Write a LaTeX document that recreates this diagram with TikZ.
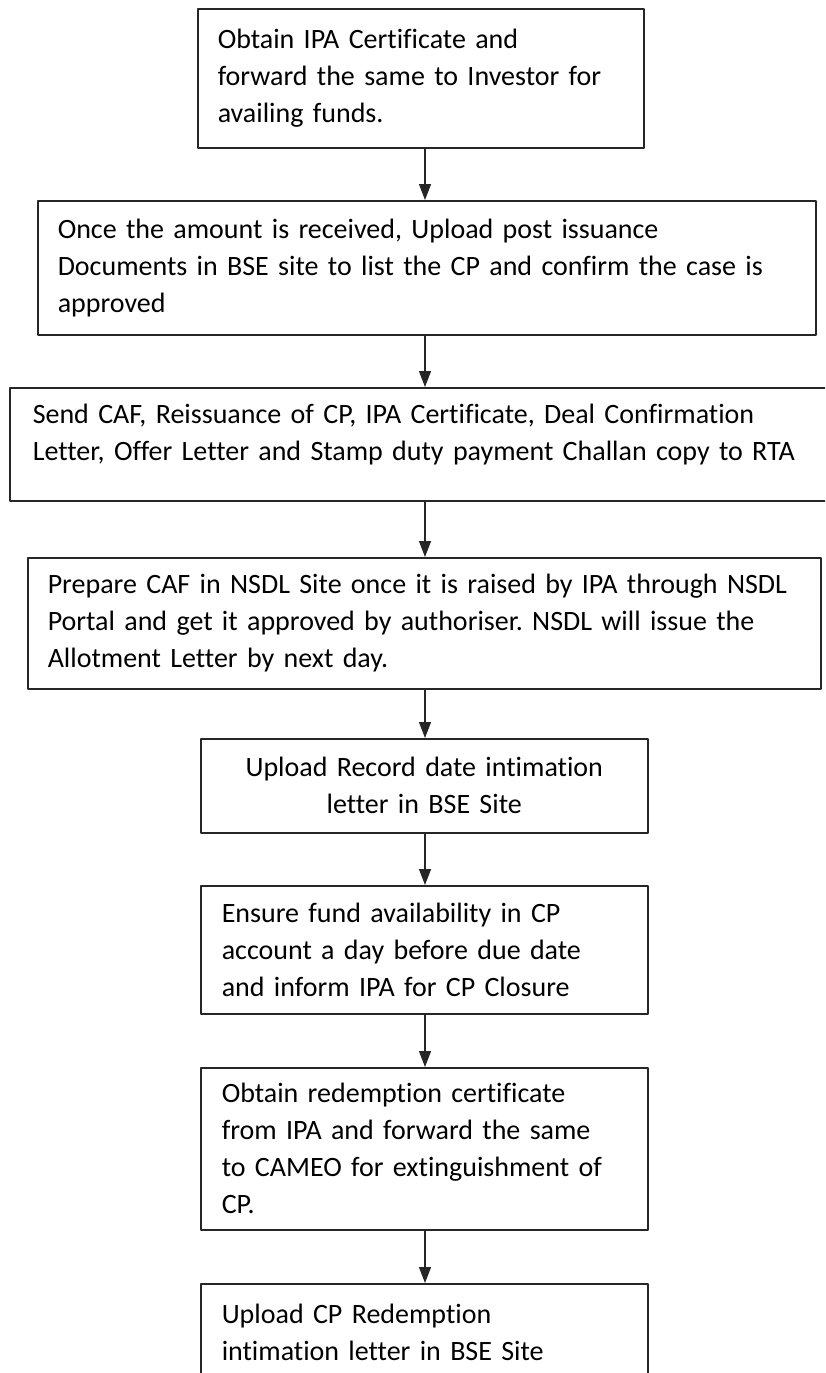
\documentclass[tikz,border=0pt]{standalone}
\usepackage{fontspec}
\setmainfont{Carlito}[Ligatures=NoCommon]
\frenchspacing
\usetikzlibrary{arrows.meta}
\begin{document}
\begin{tikzpicture}[x=1pt,y=-1pt,line join=round,
	font=\fontsize{28}{37}\selectfont,
	stepbox/.style={draw=black!85,line width=1.5pt,rectangle,anchor=north west,align=left,inner xsep=20pt,inner ysep=0pt},
	flow/.style={draw=black!85,line width=1.3pt,-{Triangle[length=16pt,width=12pt]}}]
	\useasboundingbox (0,0) rectangle (825,1373);
	\clip (0,0) rectangle (825,1373);
	\coordinate (ax) at (425,0); % common axis of the arrows
	\node[stepbox,minimum width=446pt,minimum height=139pt,text width=406pt] (b1) at (197,8)
	{Obtain IPA Certificate and\\forward the same to Investor for\\availing funds.};
	\node[stepbox,minimum width=778pt,minimum height=134pt,text width=738pt] (b2) at (37,200)
	{Once the amount is received, Upload post issuance\\Documents in BSE site to list the CP and confirm the case is\\approved};
	\node[stepbox,inner xsep=23pt,minimum width=826pt,minimum height=113pt,text width=780pt,text depth=60pt] (b3) at (9,387)
	{Send CAF, Reissuance of CP, IPA Certificate, Deal Confirmation\\Letter, Offer Letter and Stamp duty payment Challan copy to RTA};
	\node[stepbox,minimum width=793pt,minimum height=131pt,text width=753pt] (b4) at (27,557)
	{Prepare CAF in NSDL Site once it is raised by IPA through NSDL\\Portal and get it approved by authoriser. NSDL will issue the\\Allotment Letter by next day.};
	\node[stepbox,align=center,minimum width=447pt,minimum height=94pt,text width=407pt] (b5) at (200,738)
	{Upload Record date intimation\\letter in BSE Site};
	\node[stepbox,minimum width=447pt,minimum height=128pt,text width=405pt,inner xsep=21pt] (b6) at (200,885)
	{Ensure fund availability in CP\\account a day before due date\\and inform IPA for CP Closure};
	\node[stepbox,minimum width=447pt,minimum height=162pt,text width=405pt,inner xsep=21pt] (b7) at (200,1067)
	{Obtain redemption certificate\\from IPA and forward the same\\to CAMEO for extinguishment of\\CP.};
	\node[stepbox,minimum width=447pt,minimum height=150pt,text width=405pt,inner xsep=21pt,text depth=90pt] (b8) at (200,1283)
	{Upload CP Redemption\\intimation letter in BSE Site};
	\foreach \u/\v in {b1/b2,b2/b3,b3/b4,b4/b5,b5/b6,b6/b7,b7/b8}
	\draw[flow] (\u.south -| ax) -- (\v.north -| ax);
\end{tikzpicture}
\end{document}
